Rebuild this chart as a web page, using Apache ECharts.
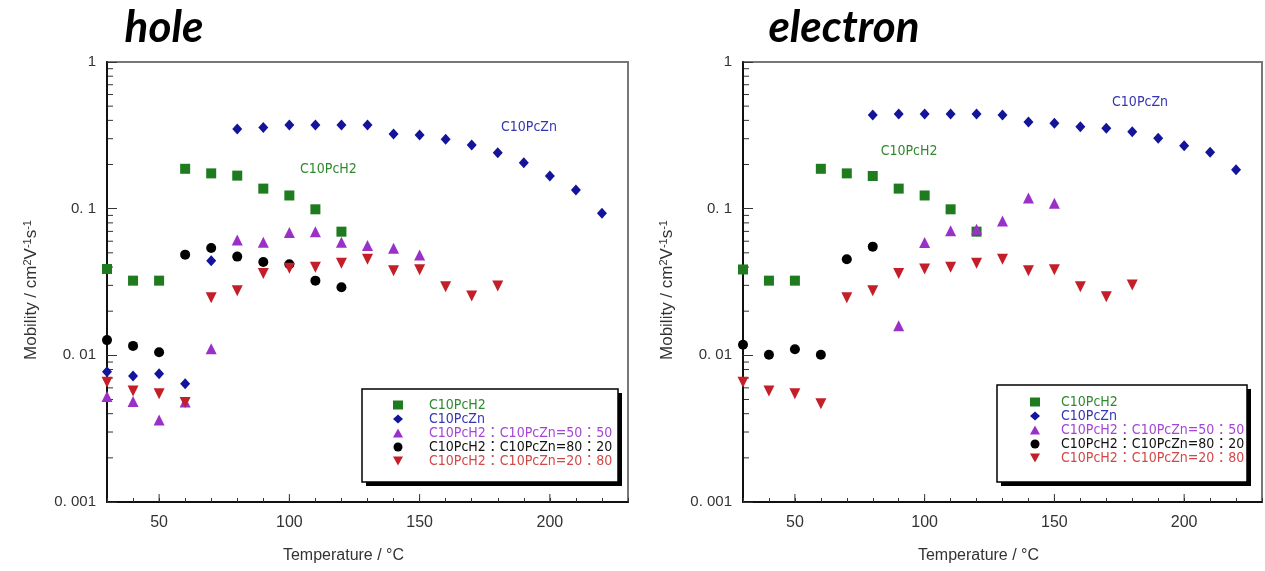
<!DOCTYPE html>
<html>
<head>
<meta charset="utf-8">
<script src="https://cdn.jsdelivr.net/npm/echarts@6/dist/echarts.min.js"></script>
<style>
html,body{margin:0;padding:0;background:#fff}
#chart{width:1265px;height:571px}
</style>
</head>
<body>
<div id="chart"></div>
<script>
// ---- data ----
var seriesNames = ["C10PcH2", "C10PcZn", "C10PcH2：C10PcZn=50：50", "C10PcH2：C10PcZn=80：20", "C10PcH2：C10PcZn=20：80"];

// hole
var holeH2T = [30, 40, 50, 60, 70, 80, 90, 100, 110, 120];
var holeH2 = [0.0388, 0.0323, 0.0323, 0.187, 0.174, 0.168, 0.137, 0.123, 0.099, 0.0697];
var holeZnT = [30, 40, 50, 60, 70, 80, 90, 100, 110, 120, 130, 140, 150, 160, 170, 180, 190, 200, 210, 220];
var holeZn = [0.00774, 0.00724, 0.0075, 0.00641, 0.0442, 0.349, 0.357, 0.372, 0.372, 0.372, 0.372, 0.323, 0.318, 0.297, 0.272, 0.241, 0.206, 0.167, 0.134, 0.093];
var hole5050T = [30, 40, 50, 60, 70, 80, 90, 100, 110, 120, 130, 140, 150];
var hole5050 = [0.00524, 0.00484, 0.00363, 0.0048, 0.0111, 0.0612, 0.059, 0.0687, 0.0697, 0.059, 0.056, 0.0537, 0.0483];
var hole8020T = [30, 40, 50, 60, 70, 80, 90, 100, 110, 120];
var hole8020 = [0.0127, 0.0116, 0.0105, 0.0486, 0.054, 0.0471, 0.0433, 0.0418, 0.0323, 0.0291];
var hole2080T = [30, 40, 50, 60, 70, 80, 90, 100, 110, 120, 130, 140, 150, 160, 170, 180];
var hole2080 = [0.00655, 0.00572, 0.00548, 0.00476, 0.0247, 0.0276, 0.0362, 0.0392, 0.0398, 0.0424, 0.0452, 0.0378, 0.0383, 0.0294, 0.0254, 0.0297];

// electron
var elecH2T = [30, 40, 50, 60, 70, 80, 90, 100, 110, 120];
var elecH2 = [0.0385, 0.0323, 0.0323, 0.187, 0.174, 0.167, 0.137, 0.123, 0.099, 0.0697];
var elecZnT = [80, 90, 100, 110, 120, 130, 140, 150, 160, 170, 180, 190, 200, 210, 220];
var elecZn = [0.435, 0.442, 0.442, 0.442, 0.442, 0.435, 0.39, 0.382, 0.362, 0.353, 0.335, 0.302, 0.269, 0.242, 0.184];
var elec5050T = [90, 100, 110, 120, 130, 140, 150];
var elec5050 = [0.0159, 0.0587, 0.0708, 0.0723, 0.0824, 0.118, 0.109];
var elec8020T = [30, 40, 50, 60, 70, 80];
var elec8020 = [0.0118, 0.0101, 0.011, 0.0101, 0.0452, 0.0551];
var elec2080T = [30, 40, 50, 60, 70, 80, 90, 100, 110, 120, 130, 140, 150, 160, 170, 180];
var elec2080 = [0.00655, 0.00572, 0.00548, 0.00467, 0.0247, 0.0276, 0.0362, 0.0388, 0.0398, 0.0424, 0.0452, 0.0378, 0.0383, 0.0294, 0.0251, 0.0302];

var xTickLabels = [50, 100, 150, 200];
var yTickLabels = ["0. 001", "0. 01", "0. 1", "1"];

// ---- styles ----
var markColors = ["#1e7b1e", "#14149a", "#9a30c8", "#000000", "#c41f28"];
var textColors = ["#2f8a2f", "#3535b0", "#a545d8", "#111111", "#d24848"];
var symbols = ["rect", "diamond", "triangle", "circle", "triangle"];
var symbolSizes = [10, [10, 11], 11, 10, 11];
var rotates = [0, 0, 0, 0, 180];
var legendIcons = ["rect", "diamond", "triangle", "circle", "path://M0,0L10,0L5,9Z"];
var narrowFont = '"DejaVu Sans Condensed", "Noto Sans CJK JP", sans-serif';

function zip(xs, ys) {
  return xs.map(function (x, i) { return [x, ys[i]]; });
}

var panels = [
  [zip(holeH2T, holeH2), zip(holeZnT, holeZn), zip(hole5050T, hole5050), zip(hole8020T, hole8020), zip(hole2080T, hole2080)],
  [zip(elecH2T, elecH2), zip(elecZnT, elecZn), zip(elec5050T, elec5050), zip(elec8020T, elec8020), zip(elec2080T, elec2080)]
];

var series = [];
panels.forEach(function (sets, p) {
  sets.forEach(function (d, k) {
    series.push({
      name: seriesNames[k],
      type: "scatter",
      xAxisIndex: p,
      yAxisIndex: p,
      symbol: symbols[k],
      symbolSize: symbolSizes[k],
      symbolRotate: rotates[k],
      itemStyle: { color: markColors[k], opacity: 1 },
      data: d,
      z: 3 + k
    });
  });
});

function makeX(gi) {
  return {
    type: "value",
    gridIndex: gi,
    min: 30,
    max: 230,
    interval: 10,
    splitLine: { show: false },
    axisLine: { lineStyle: { color: "#111", width: 2 } },
    axisTick: { inside: true, length: 4, lineStyle: { color: "#333" } },
    axisLabel: {
      color: "#333",
      fontSize: 16,
      margin: 13,
      fontFamily: "Liberation Sans",
      formatter: function (v) { return xTickLabels.indexOf(v) >= 0 ? String(v) : ""; }
    },
    name: "Temperature / °C",
    nameLocation: "middle",
    nameGap: 46,
    nameTextStyle: { color: "#333", fontSize: 16, fontFamily: "Liberation Sans", padding: [0, 48, 0, 0] }
  };
}

function makeY(gi) {
  return {
    type: "log",
    logBase: 10,
    gridIndex: gi,
    min: 0.001,
    max: 1,
    splitLine: { show: false },
    axisLine: { lineStyle: { color: "#111", width: 2 } },
    axisTick: { inside: true, length: 10, lineStyle: { color: "#333" } },
    axisLabel: {
      color: "#333",
      fontSize: 15,
      margin: 11,
      fontFamily: "Liberation Sans",
      formatter: function (v) {
        var i = Math.round(Math.log10(v)) + 3;
        return yTickLabels[i];
      }
    },
    name: "{a|Mobility / cm}{s|2}{a|V}{s|-1}{a|s}{s|-1}",
    nameLocation: "middle",
    nameGap: 66,
    nameTextStyle: {
      color: "#333",
      fontFamily: "Liberation Sans",
      padding: [0, 16, 0, 0],
      rich: {
        a: { fontSize: 17, fontFamily: "Liberation Sans", color: "#333" },
        s: { fontSize: 11, fontFamily: "Liberation Sans", color: "#333", verticalAlign: "bottom", padding: [0, 0, 8, 0] }
      }
    }
  };
}

function makeLegend(left, top, textPad) {
  return {
    orient: "vertical",
    left: left,
    top: top,
    padding: 0,
    itemGap: 0,
    itemWidth: 10,
    itemHeight: 9,
    selectedMode: false,
    z: 10,
    textStyle: { fontSize: 14, fontFamily: narrowFont, lineHeight: 13.4, padding: [0, 0, 0, textPad] },
    data: seriesNames.map(function (n, k) {
      return { name: n, icon: legendIcons[k], textStyle: { color: textColors[k] } };
    })
  };
}

var option = {
  animation: false,
  backgroundColor: "#fff",
  grid: [
    { left: 107, top: 62, width: 521, height: 440, show: true, borderColor: "#777", borderWidth: 2, backgroundColor: "#fff" },
    { left: 743, top: 62, width: 519, height: 440, show: true, borderColor: "#777", borderWidth: 2, backgroundColor: "#fff" }
  ],
  xAxis: [makeX(0), makeX(1)],
  yAxis: [makeY(0), makeY(1)],
  legend: [makeLegend(393, 398, 21), makeLegend(1030, 395, 16)],
  series: series
};

var chart = echarts.init(document.getElementById("chart"));
chart.setOption(option);

// in-plot labels: [panel, text, series index, T, value]
var notes = [
  [0, "C10PcH2", 0, 115, 0.184],
  [0, "C10PcZn", 1, 192, 0.36],
  [1, "C10PcH2", 0, 94, 0.244],
  [1, "C10PcZn", 1, 183, 0.534]
];
var titles = [["hole", 164], ["electron", 844]];
// legend frames: [x, y, w, h]
var frames = [[362, 389, 256, 93], [997, 385, 250, 97]];

var g = [];
titles.forEach(function (t) {
  g.push({
    type: "text", x: t[1], y: 6,
    style: { text: t[0], textAlign: "center", font: 'italic bold 44px Lato, "Open Sans"', fill: "#000" }
  });
});
frames.forEach(function (f) {
  g.push({ type: "rect", z: 5, silent: true, shape: { x: f[0] + 4, y: f[1] + 4, width: f[2], height: f[3] }, style: { fill: "#000" } });
  g.push({ type: "rect", z: 6, silent: true, shape: { x: f[0], y: f[1], width: f[2], height: f[3] }, style: { fill: "#fff", stroke: "#000", lineWidth: 1.5 } });
});
[0, 1].forEach(function (p) {
  var finder = { xAxisIndex: p, yAxisIndex: p };
  [0.001, 0.01, 0.1].forEach(function (dec) {
    for (var m = 2; m <= 9; m++) {
      var q = chart.convertToPixel(finder, [30, dec * m]);
      g.push({ type: "line", silent: true, shape: { x1: q[0], y1: q[1], x2: q[0] + 6, y2: q[1] }, style: { stroke: "#333", lineWidth: 1 } });
    }
  });
  xTickLabels.forEach(function (t) {
    var q = chart.convertToPixel(finder, [t, 0.001]);
    g.push({ type: "line", silent: true, shape: { x1: q[0], y1: q[1], x2: q[0], y2: q[1] - 8 }, style: { stroke: "#333", lineWidth: 1 } });
  });
});
notes.forEach(function (n) {
  var q = chart.convertToPixel({ xAxisIndex: n[0], yAxisIndex: n[0] }, [n[3], n[4]]);
  g.push({
    type: "text", x: q[0], y: q[1], silent: true,
    style: { text: n[1], textAlign: "center", textVerticalAlign: "middle", font: '14px ' + narrowFont, fill: textColors[n[2]] }
  });
});
chart.setOption({ graphic: g });
</script>
</body>
</html>
